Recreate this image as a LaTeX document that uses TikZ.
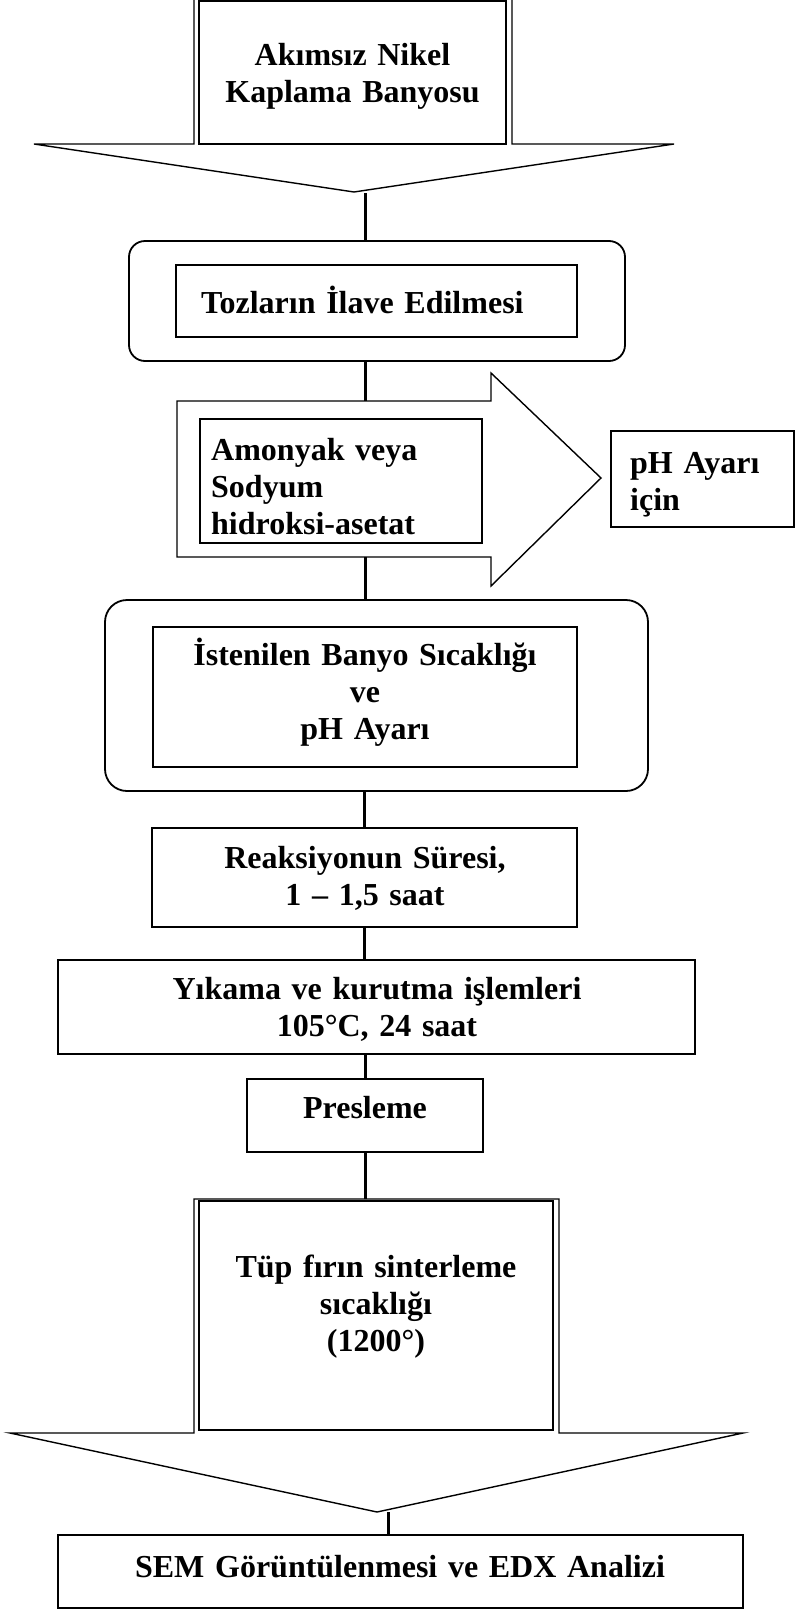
\documentclass[tikz,border=0pt]{standalone}
\usepackage{fontspec}
\setmainfont{Liberation Serif}
\begin{document}
\begin{tikzpicture}[x=1pt,y=-1pt,
  box/.style={draw, line width=1.8pt, inner sep=0pt},
  rbox/.style={box, rounded corners=#1},
  outline/.style={draw, line width=1.4pt, line join=miter},
  conn/.style={draw, line width=3pt},
  txt/.style={inner sep=0pt, font=\bfseries\fontsize{32pt}{37pt}\selectfont},
  ctxt/.style={txt, anchor=base, align=center, text width=#1},
  ltxt/.style={txt, anchor=base west, align=left, text width=#1},
]
\useasboundingbox (0,0) rectangle (795,1609);

% bath: box with a wide down arrow under it
\draw[outline] (194,0) -- (194,144) -- (34,144) -- (354,192) -- (674,144) -- (512,144) -- (512,0);
\node[box, line width=1.6pt, minimum width=307pt, minimum height=143pt] (bath) at (352.5,72.5) {};
\node[ctxt=300pt] (bathT) at (352.5,65) {Akımsız Nikel\\Kaplama Banyosu};
\coordinate (c0) at (365,193);

% adding the powders
\node[rbox=16pt, minimum width=496pt, minimum height=120pt] (rb1) at (377,301) {};
\node[box, minimum width=401pt, minimum height=72pt] (toz) at (376.5,301) {};
\node[ltxt=380pt] (tozT) at (201,313) {Tozların İlave Edilmesi};
\draw[conn] (c0) -- (c0 |- rb1.north);

% right arrow with the reagents
\draw[outline] (177,401) -- (491,401) -- (491,373) -- (601,478) -- (491,586) -- (491,557) -- (177,557) -- cycle;
\coordinate (arTop) at (365,401);
\coordinate (arBot) at (365,557);
\draw[conn] (arTop |- rb1.south) -- (arTop);
\node[box, minimum width=282pt, minimum height=124pt] (amon) at (341,481) {};
\node[ltxt=270pt] (amonT) at (211,460) {Amonyak veya\\Sodyum\\hidroksi-asetat};
\node[box, minimum width=183pt, minimum height=96pt] (ph) at (702.5,479) {};
\node[ltxt=160pt] (phT) at (630,473) {pH Ayarı\\için};

% bath temperature and pH
\node[rbox=22pt, minimum width=543pt, minimum height=191pt] (rb2) at (376.5,695.5) {};
\node[box, minimum width=424pt, minimum height=140pt] (ist) at (365,697) {};
\node[ctxt=420pt] (istT) at (365,665) {İstenilen Banyo Sıcaklığı\\ve\\pH Ayarı};
\draw[conn] (arBot) -- (arBot |- rb2.north);

% reaction time
\node[box, minimum width=425pt, minimum height=99pt] (reak) at (364.5,877.5) {};
\node[ctxt=420pt] (reakT) at (365,868) {Reaksiyonun Süresi,\\1 – 1,5 saat};
\draw[conn] (reak.north |- rb2.south) -- (reak.north);

% washing and drying
\node[box, minimum width=637pt, minimum height=94pt] (yik) at (376.5,1007) {};
\node[ctxt=620pt] (yikT) at (377,999) {Yıkama ve kurutma işlemleri\\105°C, 24 saat};
\draw[conn] (reak.south) -- (reak.south |- yik.north);

% pressing
\node[box, minimum width=236pt, minimum height=73pt] (pres) at (365,1115.5) {};
\node[ctxt=230pt] (presT) at (365,1118) {Presleme};
\draw[conn] (pres.north |- yik.south) -- (pres.north);

% sintering: box with a wide down arrow under it
\draw[outline] (10,1433) -- (194,1433) -- (194,1199) -- (559,1199) -- (559,1433) -- (743,1433) -- (377,1512) -- cycle;
\node[box, line width=1.6pt, minimum width=354pt, minimum height=229pt] (tup) at (376,1315.5) {};
\node[ctxt=350pt] (tupT) at (376,1277) {Tüp fırın sinterleme\\sıcaklığı\\(1200°)};
\coordinate (tupTop) at (365,1199);
\draw[conn] (pres.south) -- (tupTop);

% analysis
\node[box, minimum width=685pt, minimum height=73pt] (sem) at (400.5,1571.5) {};
\node[ctxt=680pt] (semT) at (400,1577) {SEM Görüntülenmesi ve EDX Analizi};
\coordinate (tip2) at (388,1512);
\draw[conn] (tip2) -- (tip2 |- sem.north);
\end{tikzpicture}
\end{document}
